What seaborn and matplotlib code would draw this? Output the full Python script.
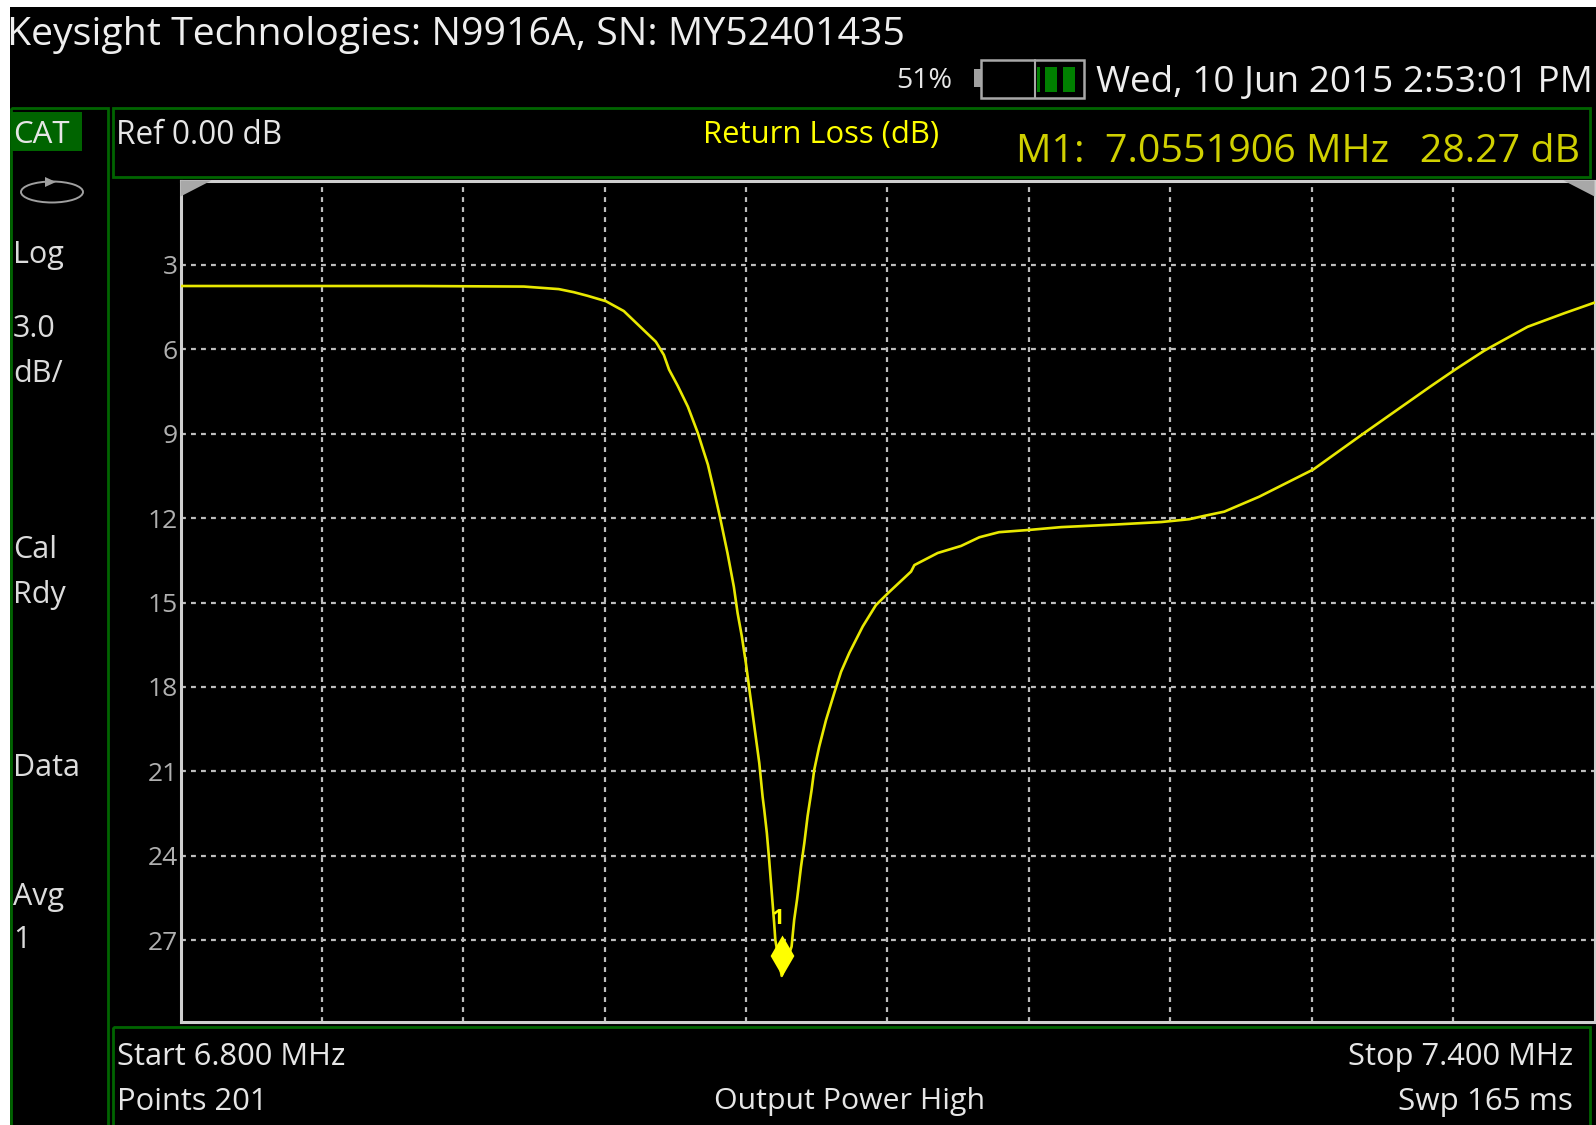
import matplotlib
matplotlib.use("Agg")
import matplotlib.pyplot as plt
import pandas as pd
import seaborn as sns
from matplotlib.patches import Rectangle, Polygon, Ellipse
from matplotlib.path import Path

# ---- data ----
freq_mhz = [6.800, 6.9000, 6.9457, 6.9605, 6.9669, 6.9728, 6.9805, 6.9881, 7.0017, 7.0051,
            7.0073, 7.0110, 7.0153, 7.0195, 7.0215, 7.0238, 7.0250, 7.0263, 7.0289, 7.0321,
            7.0348, 7.0364, 7.0382, 7.0399, 7.0416, 7.0437, 7.0456, 7.0470, 7.0477, 7.0488,
            7.0498, 7.0508, 7.0519, 7.0524, 7.0551, 7.0593, 7.0604, 7.0616, 7.0633, 7.0647,
            7.0661, 7.0667, 7.0678, 7.0689, 7.0710, 7.0739, 7.0774, 7.0803, 7.0838, 7.0895,
            7.0951, 7.1008, 7.1100, 7.1114, 7.1213, 7.1312, 7.1390, 7.1473, 7.1601, 7.1737,
            7.1962, 7.2161, 7.2280, 7.2344, 7.2429, 7.2577, 7.2807, 7.3022, 7.3304, 7.3407,
            7.3532, 7.3716, 7.3871, 7.4000]
return_loss_db = [3.75, 3.75, 3.77, 3.86, 3.97, 4.10, 4.29, 4.64, 5.73, 6.20,
                  6.72, 7.30, 8.04, 8.97, 9.50, 10.10, 10.53, 10.99, 11.96, 13.24,
                  14.44, 15.38, 16.21, 17.15, 18.22, 19.53, 20.71, 21.90, 22.37, 23.19,
                  24.16, 25.22, 26.39, 27.00, 28.27, 27.23, 26.28, 25.57, 24.39, 23.55,
                  22.59, 22.26, 21.66, 20.95, 20.13, 19.18, 18.22, 17.46, 16.79, 15.85,
                  15.09, 14.62, 13.90, 13.67, 13.24, 12.99, 12.68, 12.50, 12.42, 12.32,
                  12.23, 12.14, 12.04, 11.92, 11.77, 11.24, 10.27, 8.98, 7.32, 6.73,
                  6.05, 5.20, 4.72, 4.34]
marker_freq = [7.0551906]
marker_db = [28.27]
x_gridlines = [6.86, 6.92, 6.98, 7.04, 7.10, 7.16, 7.22, 7.28, 7.34]
y_ticks = [3, 6, 9, 12, 15, 18, 21, 24, 27]

TITLE = "Keysight Technologies: N9916A, SN: MY52401435"
DATE = "Wed, 10 Jun 2015 2:53:01 PM"

W, H = 1596, 1125
sns.set_theme(style="dark")
plt.rcParams["font.family"] = ["Open Sans", "DejaVu Sans"]

GREEN = "#006400"
GREY = "#bdbdbd"
TXT = "#e6e6e6"
YEL = "#ffff00"
DYEL = "#d0d000"

fig = plt.figure(figsize=(W / 100, H / 100), dpi=100, facecolor="white")

# chrome layer in pixel coordinates
bg = fig.add_axes([0, 0, 1, 1], zorder=0)
bg.set_xlim(0, W); bg.set_ylim(H, 0); bg.axis("off")
bg.add_patch(Rectangle((10, 7), W - 10, H - 7, fc="black", ec="none"))

for xy, w, h in [((11, 108), 97, 1030), ((113, 108), 1477, 69), ((113, 1027), 1477, 110)]:
    bg.add_patch(Rectangle(xy, w, h, fc="none", ec=GREEN, lw=2))
bg.add_patch(Rectangle((11, 112), 71, 39, fc=GREEN, ec="none"))

# scan icon
bg.add_patch(Ellipse((52, 192), 62, 21, fc="none", ec="#a0a0a0", lw=1.4))
bg.add_patch(Polygon([(45, 177), (45, 187), (56, 182)], fc="#a0a0a0", ec="none"))

# battery
bg.add_patch(Rectangle((974, 69), 8, 18, fc="#a0a0a0", ec="none"))
bg.add_patch(Rectangle((981, 60), 103, 38, fc="none", ec="#a8a8a8", lw=1.8))
bg.plot([1035, 1035], [60, 98], color="#a8a8a8", lw=1.5)
for x0, w in [(1037, 3), (1045, 12), (1063, 12)]:
    bg.add_patch(Rectangle((x0, 67), w, 25, fc="#008000", ec="none"))


def T(x, y, s, size=22, color=TXT, ha="left", **kw):
    bg.text(x, y, s, fontsize=size, color=color, ha=ha, va="center", **kw)


T(7, 35, TITLE, size=28.3, color="#eeeeee")
T(896, 81, "51%", size=20.5)
T(1593, 83, DATE, size=26.6, ha="right", color="#eeeeee")
T(13, 135, "CAT", size=22.5)
for y, s in [(255, "Log"), (329, "3.0"), (374, "dB/"), (550, "Cal"), (595, "Rdy"),
             (768, "Data"), (897, "Avg"), (940, "1")]:
    T(13, y, s, size=22, color="#dcdcdc")
T(116, 135, "Ref 0.00 dB", size=22.7)
T(703, 135, "Return Loss (dB)", size=22.3, color=YEL)
T(1016, 152, "M1:  7.0551906 MHz   28.27 dB", size=28.4, color=DYEL)
T(117, 1057, "Start 6.800 MHz", size=22.2)
T(117, 1102, "Points 201", size=22.2)
T(850, 1102, "Output Power High", size=21.8, ha="center")
T(1573, 1057, "Stop 7.400 MHz", size=22.2, ha="right")
T(1573, 1102, "Swp 165 ms", size=22.6, ha="right")

# plot area
L, R, TOP, BOT = 180.5, 1594.5, 180.5, 1022
ax = fig.add_axes([L / W, 1 - BOT / H, (R - L) / W, (BOT - TOP) / H], zorder=2)
ax.set_facecolor("none")

df = pd.DataFrame({"MHz": freq_mhz, "dB": return_loss_db})
sns.lineplot(data=df, x="MHz", y="dB", ax=ax, color="#e8e800", lw=1.9,
             estimator=None, sort=False, zorder=3)

ax.set_xlim(6.8, 7.4)
ax.set_ylim(29.91, 0)
ax.set_xticks(x_gridlines)
ax.set_xticklabels([])
ax.set_yticks(y_ticks)
ax.set_yticklabels([str(v) for v in y_ticks], fontsize=19, color="#b0b0b0")
ax.tick_params(axis="both", length=0, pad=2)
ax.set_xlabel(""); ax.set_ylabel("")
ax.grid(True, color=GREY, lw=1.6, linestyle=(0, (2.2, 2.3)))
ax.set_axisbelow(True)
for s in ax.spines.values():
    s.set_color("#cfcfcf"); s.set_linewidth(2.2); s.set_visible(True)

# corner flags, drawn over the plot area
top = fig.add_axes([0, 0, 1, 1], zorder=3)
top.set_xlim(0, W); top.set_ylim(H, 0); top.axis("off")
top.add_patch(Polygon([(L, TOP), (L + 31, TOP), (L, TOP + 16)], fc="#a8a8a8", ec="none"))
top.add_patch(Polygon([(R, TOP), (R - 31, TOP), (R, TOP + 16)], fc="#a8a8a8", ec="none"))

# marker: diamond with its lower tip on the data point
diamond = Path([(0, 0), (0.58, 1), (0, 2), (-0.58, 1), (0, 0)], closed=True)
ax.plot(marker_freq, marker_db, marker=diamond, ms=59, mfc=YEL, mec=YEL, mew=0,
        linestyle="none", zorder=5)
ax.annotate("1", (marker_freq[0], marker_db[0]), xytext=(-2.5, 41), textcoords="offset points",
            color=YEL, fontsize=16, ha="center", va="center", fontweight="bold", zorder=5)

fig.savefig("out.png", dpi=100, facecolor=fig.get_facecolor())
